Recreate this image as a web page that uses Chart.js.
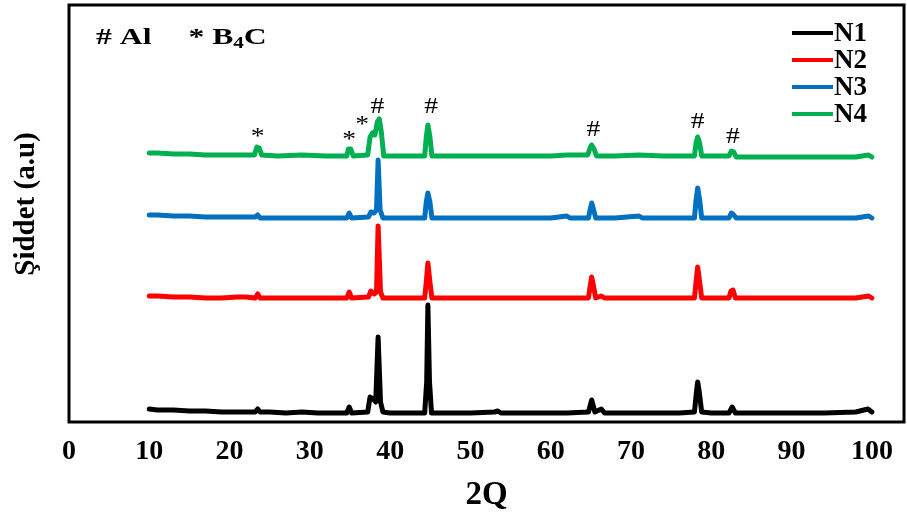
<!DOCTYPE html>
<html>
<head>
<meta charset="utf-8">
<script src="https://cdn.jsdelivr.net/npm/chart.js@4.4.1/dist/chart.umd.min.js"></script>
<style>
  html, body { margin: 0; padding: 0; background: #fff; }
  #wrap { width: 907px; height: 523px; position: relative; }
</style>
</head>
<body>
<div id="wrap"><canvas id="xrdCanvas"></canvas></div>
<script>
// 2-theta / intensity pairs (intensity in arbitrary units, stacked patterns)
var n1 = [[10,13],[11,12],[13,12],[15,11],[17,11],[19,10],[21,10],[23.2,10],[23.5,13],[23.8,10],[25,10],[27,9],[29,10],[31,9],[33,9],
  [34.6,9],[34.9,15],[35.2,9],[37.2,10],[37.5,25],[37.9,23],[38.2,20],[38.5,85],[38.8,20],[39.1,10],[40,9],[42,9],[44.3,9],
  [44.55,40],[44.7,117],[44.9,40],[45.15,9],[47,9],[50,9],[53,10],[53.4,11],[53.8,9],[56,9],[59,9],[62,9],[64.7,10],[65.1,22],
  [65.5,10],[66.3,13],[66.7,9],[70,9],[73,9],[76,9],[77.9,10],[78.15,30],[78.3,40],[78.5,30],[78.8,10],[80,9],[82.2,9],[82.6,15],
  [83,9],[86,9],[90,9],[94,9],[98,10],[99.5,13],[100,10]];
var n2 = [[10,126],[11,126],[13,125],[15,125],[17,124],[19,124],[21,125],[22,125],[23.2,124],[23.5,128],[23.8,124],[26,124],[29,124],
  [32,124],[34.6,124],[34.9,130],[35.2,124],[37.3,125],[37.6,131],[38,128],[38.3,130],[38.5,196],[38.8,130],[39.1,124],[41,124],
  [44.3,124],[44.5,140],[44.7,159],[44.95,140],[45.2,124],[48,124],[52,124],[56,124],[60,124],[64.7,124],[64.9,135],[65.1,145],
  [65.35,135],[65.6,124],[66.3,126],[66.7,124],[70,124],[74,124],[77.9,124],[78.1,140],[78.3,155],[78.55,140],[78.8,124],[82.2,124],
  [82.45,131],[82.7,132],[83,124],[86,124],[90,124],[94,124],[98,124],[99.6,126],[100,124]];
var n3 = [[10,207],[11,207],[13,206],[15,206],[17,205],[19,205],[21,205],[23.2,205],[23.5,207],[23.8,204],[26,204],[29,204],[32,204],
  [34.6,204],[34.9,209],[35.2,204],[37.3,205],[37.6,210],[38,209],[38.3,212],[38.5,262],[38.75,212],[39.1,204],[41,204],[44.3,204],
  [44.5,220],[44.7,229],[44.95,220],[45.2,204],[48,204],[52,204],[56,204],[60,204],[62,206],[62.4,204],[64.7,204],[64.9,212],
  [65.1,219],[65.35,212],[65.6,204],[68,204],[71,206],[71.4,204],[74,204],[77.9,204],[78.1,222],[78.3,234],[78.55,222],[78.8,204],
  [82.2,204],[82.5,209],[82.8,207],[83.1,204],[86,204],[90,204],[94,204],[98,204],[99.6,206],[100,204]];
var n4 = [[10,269],[11,269],[13,268],[15,268],[17,267],[19,267],[21,267],[23.1,267],[23.4,275],[23.7,274],[24,267],[26,266],[29,267],
  [32,266],[34.6,266],[34.8,273],[35.1,273],[35.4,266],[37.2,267],[37.5,285],[37.8,289],[38.1,287],[38.4,300],[38.65,303],[38.9,290],
  [39.2,266],[41,266],[44.3,266],[44.5,285],[44.7,297],[44.95,285],[45.2,266],[48,266],[52,266],[56,266],[60,266],[62,267],[64.6,267],
  [64.9,274],[65.1,277],[65.4,273],[65.7,266],[68,266],[71,267],[74,266],[77.9,266],[78.1,279],[78.3,285],[78.55,279],[78.8,266],
  [82.2,266],[82.5,271],[82.8,270],[83.1,265],[86,265],[90,265],[94,265],[98,265],[99.6,267],[100,265]];

var seriesNames = ['N1', 'N2', 'N3', 'N4'];
var seriesColors = ['#000000', '#ff0000', '#0070c0', '#00b050'];

// phase marks above the peaks: symbol, 2-theta, intensity
var markSymbols = ['*', '*', '*', '#', '#', '#', '#', '#'];
var markTheta = [23.5, 34.9, 36.5, 38.4, 45.1, 65.3, 78.3, 82.7];
var markLevel = [285, 282, 297, 315, 315, 292, 300, 285];

var xTicks = [0, 10, 20, 30, 40, 50, 60, 70, 80, 90, 100];

var serif = "'Liberation Serif', 'Times New Roman', serif";

var decorPlugin = {
  id: 'decor',
  afterDatasetsDraw: function (chart) {
    var ctx = chart.ctx;
    var area = chart.chartArea;
    var xs = chart.scales.x, ys = chart.scales.y;
    ctx.save();

    // frame
    ctx.strokeStyle = '#000';
    ctx.lineWidth = 3;
    ctx.strokeRect(area.left, area.top, area.right - area.left, area.bottom - area.top);

    // peak marks
    ctx.fillStyle = '#000';
    ctx.textAlign = 'center';
    ctx.textBaseline = 'middle';
    ctx.font = '23px ' + serif;
    for (var i = 0; i < markSymbols.length; i++) {
      ctx.save();
      ctx.translate(xs.getPixelForValue(markTheta[i]), ys.getPixelForValue(markLevel[i]));
      ctx.scale(1.2, 1);
      ctx.fillText(markSymbols[i], 0, 0);
      ctx.restore();
    }

    // phase key (text is a bit wide in the original)
    ctx.textAlign = 'left';
    ctx.save();
    ctx.translate(96, area.top + 33);
    ctx.scale(1.32, 1);
    ctx.font = 'bold 24px ' + serif;
    ctx.fillText('# Al', 0, 0);
    var kx = 70;
    ctx.fillText('* B', kx, 0);
    kx += ctx.measureText('* B').width;
    ctx.font = 'bold 16px ' + serif;
    ctx.fillText('4', kx, 6);
    kx += ctx.measureText('4').width;
    ctx.font = 'bold 24px ' + serif;
    ctx.fillText('C', kx, 0);
    ctx.restore();

    // legend
    ctx.lineWidth = 4;
    ctx.font = 'bold 27px ' + serif;
    for (var j = 0; j < seriesNames.length; j++) {
      var ly = area.top + 28 + j * 27;
      ctx.strokeStyle = seriesColors[j];
      ctx.beginPath();
      ctx.moveTo(792, ly);
      ctx.lineTo(833, ly);
      ctx.stroke();
      ctx.fillStyle = '#000';
      ctx.fillText(seriesNames[j], 834, ly + 1);
    }

    // y title
    ctx.translate(27, 204);
    ctx.rotate(-Math.PI / 2);
    ctx.textAlign = 'center';
    ctx.font = 'bold 29px ' + serif;
    ctx.fillText('Şiddet (a.u)', 0, 0);
    ctx.restore();
  }
};

var datasets = [n1, n2, n3, n4].map(function (pts, k) {
  return {
    label: seriesNames[k],
    data: pts,
    borderColor: seriesColors[k],
    borderWidth: 5,
    pointRadius: 0,
    tension: 0,
    borderJoinStyle: 'round',
    borderCapStyle: 'round',
    fill: false
  };
});

new Chart(document.getElementById('xrdCanvas').getContext('2d'), {
  type: 'line',
  data: { datasets: datasets },
  options: {
    responsive: true,
    maintainAspectRatio: false,
    animation: false,
    layout: { padding: { left: 69, right: 3, top: 5, bottom: 0 } },
    plugins: {
      legend: { display: false },
      tooltip: { enabled: false }
    },
    scales: {
      x: {
        type: 'linear',
        min: 0,
        max: 104,
        afterBuildTicks: function (scale) {
          scale.ticks = xTicks.map(function (v) { return { value: v }; });
        },
        afterFit: function (scale) {
          scale.height = 101;
        },
        grid: { display: false, drawTicks: false },
        border: { display: false },
        ticks: {
          padding: 13,
          color: '#000',
          font: { family: serif, size: 28, weight: 'bold' },
          maxRotation: 0
        },
        title: {
          display: true,
          text: '2Q',
          color: '#000',
          font: { family: serif, size: 33, weight: 'bold', lineHeight: 1 },
          padding: { top: 0, bottom: 11 }
        }
      },
      y: {
        display: false,
        min: 0,
        max: 417
      }
    }
  },
  plugins: [decorPlugin]
});
</script>
</body>
</html>
